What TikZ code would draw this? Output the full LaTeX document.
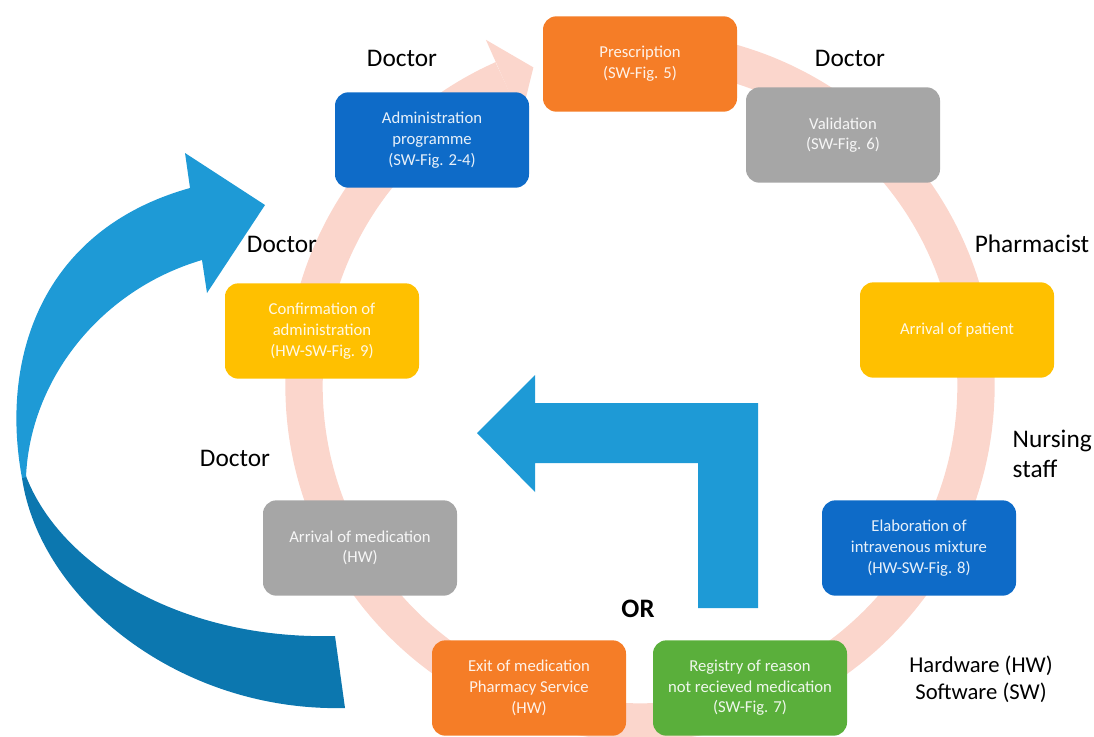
\documentclass[tikz,border=0pt]{standalone}
\usepackage{fontspec}
\setmainfont{Carlito}
\usepackage{xcolor}
\usepackage{tikz}
\usetikzlibrary{calc}
\definecolor{ringpink}{HTML}{FBD6CC}
\definecolor{orangebox}{HTML}{F57D27}
\definecolor{greybox}{HTML}{A6A6A6}
\definecolor{goldbox}{HTML}{FFC000}
\definecolor{bluebox}{HTML}{0E6BC8}
\definecolor{greenbox}{HTML}{5AAF3B}
\definecolor{arrowlight}{HTML}{1E9AD6}
\definecolor{arrowdark}{HTML}{0C77AF}

\begin{document}
\begin{tikzpicture}[x=0.75pt,y=-0.75pt,
    stage/.style={rounded corners=10pt, minimum width=145.5pt, minimum height=71.5pt,
      align=center, inner sep=2pt, text=white, text opacity=0.9,
      font=\fontsize{12.5}{15.5}\selectfont},
    role/.style={font=\fontsize{19}{22}\selectfont, text=black}]
  \useasboundingbox (0,0) rectangle (1094,736);
  \coordinate (ctr) at (640,386);

  % cycle ring behind the stages
  \draw[ringpink, line width=28pt] plot[smooth, domain=-100:246, samples=120]
    ({640+336*cos(\x)},{386+336*sin(\x)});
  \fill[ringpink] ($(ctr)+(246:379)$) -- ($(ctr)+(251.5:336)$) -- ($(ctr)+(246:293)$) -- cycle;

  \node[stage, fill=orangebox] (presc) at (640,64) {Prescription\\(SW-Fig. 5)};
  \node[stage, fill=greybox] (valid) at (843,135) {Validation\\(SW-Fig. 6)};
  \node[stage, fill=goldbox] (patient) at (957,330) {Arrival of patient};
  \node[stage, fill=bluebox] (mixture) at (919,548) {Elaboration of\\intravenous mixture\\(HW-SW-Fig. 8)};
  \node[stage, fill=greenbox] (registry) at (750,688) {Registry of reason\\not recieved medication\\(SW-Fig. 7)};
  \node[stage, fill=orangebox] (exitmed) at (529,688) {Exit of medication\\Pharmacy Service\\(HW)};
  \node[stage, fill=greybox] (arrmed) at (360,548) {Arrival of medication\\(HW)};
  \node[stage, fill=goldbox] (confirm) at (322,331) {Confirmation of\\administration\\(HW-SW-Fig. 9)};
  \node[stage, fill=bluebox] (admin) at (432,140) {Administration\\programme\\(SW-Fig. 2-4)};

  % big curved arrow on the left
  \fill[arrowdark] (22,478) .. controls (40,600) and (180,712) .. (345,708)
    -- (335,636) .. controls (180,640) and (60,565) .. (26,476) -- cycle;
  \fill[arrowlight] (22,478) .. controls (0,360) and (40,230) .. (190,188)
    -- (185,153) -- (265,205) -- (207,293) -- (202,260)
    .. controls (100,290) and (30,380) .. (26,477) -- cycle;

  % elbow arrow in the middle
  \fill[arrowlight] (758,608) -- (758,403) -- (535,403) -- (535,375) -- (477,433)
    -- (535,492) -- (535,463) -- (698,463) -- (698,608) -- cycle;

  \node[role] (doctora) at (402,58) {Doctor};
  \node[role] (doctorb) at (850,58) {Doctor};
  \node[role] (doctorc) at (282,244) {Doctor};
  \node[role] (pharm) at (1032,244) {Pharmacist};
  \node[role, align=left, anchor=west] (nurse) at (1008,454) {Nursing\\staff};
  \node[role] (doctord) at (235,458) {Doctor};
  \node[role, font=\fontsize{20}{24}\selectfont\bfseries] (orword) at (638,609) {OR};
  \node[role, align=center, font=\fontsize{17}{20}\selectfont] (legend) at (981,679) {Hardware (HW)\\Software (SW)};
\end{tikzpicture}
\end{document}
